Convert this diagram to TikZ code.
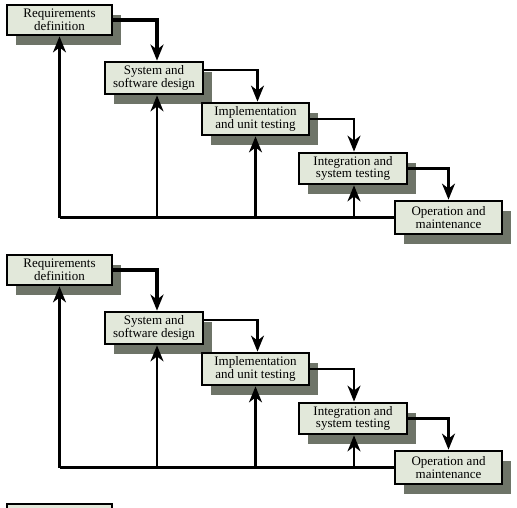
\documentclass[tikz,border=0pt]{standalone}
\usepackage{fontspec}
\setmainfont{Liberation Serif}
\usetikzlibrary{arrows.meta,shadows}
\definecolor{boxfill}{HTML}{E2E8DA}
\definecolor{shadowc}{HTML}{6E7468}
\tikzset{
  stage/.style={draw=black, line width=2.8pt, fill=boxfill, align=center,
    inner sep=0pt, font=\fontsize{13}{12.5}\selectfont,
    general shadow={fill=shadowc, shadow xshift=9pt, shadow yshift=-10pt}},
  flow/.style={line width=2.2pt, -{Stealth[length=16pt,width=13pt,inset=5pt]}},
  heavyflow/.style={flow, line width=3.6pt},
  back/.style={line width=2.2pt},
}
\newcommand\waterfall[2]{%
  \begin{scope}[yshift=#2]
    \node[stage, minimum width=105pt, minimum height=30pt] (#1r) at (59.5,20) {Requirements\\definition};
    \node[stage, minimum width=98pt, minimum height=32pt] (#1s) at (154,78) {System and\\software design};
    \node[stage, minimum width=107pt, minimum height=32pt] (#1i) at (255.5,119) {Implementation\\and unit testing};
    \node[stage, minimum width=108pt, minimum height=31pt] (#1t) at (353,168.5) {Integration and\\system testing};
    \node[stage, minimum width=107pt, minimum height=33pt] (#1o) at (448.5,217.5) {Operation and\\maintenance};
    % forward flow
    \draw[heavyflow] (#1r.east) -| ([xshift=3pt]#1s.north);
    \draw[flow] ([yshift=8pt]#1s.east) -| ([xshift=2pt]#1i.north);
    \draw[flow] (#1i.east) -| ([xshift=1pt]#1t.north);
    \draw[flow] (#1t.east) -| (#1o.north);
    % feedback
    \draw[back] (#1o.west) -- (#1r.south |- #1o.west);
    \draw[flow] (#1r.south |- #1o.west) -- (#1r.south);
    \draw[flow] ([xshift=3pt]#1s.south |- #1o.west) -- ([xshift=3pt]#1s.south);
    \draw[flow] (#1i.south |- #1o.west) -- (#1i.south);
    \draw[flow] ([xshift=1pt]#1t.south |- #1o.west) -- ([xshift=1pt]#1t.south);
  \end{scope}}
\begin{document}
\begin{tikzpicture}[x=1pt,y=-1pt]
  \useasboundingbox (0,0) rectangle (517,508);
  \fill[white] (0,0) rectangle (517,508);
  \waterfall{a}{0pt}
  \waterfall{b}{-250pt}
  \node[stage, minimum width=105pt, minimum height=30pt] (cr) at (59.5,519) {};
\end{tikzpicture}
\end{document}
